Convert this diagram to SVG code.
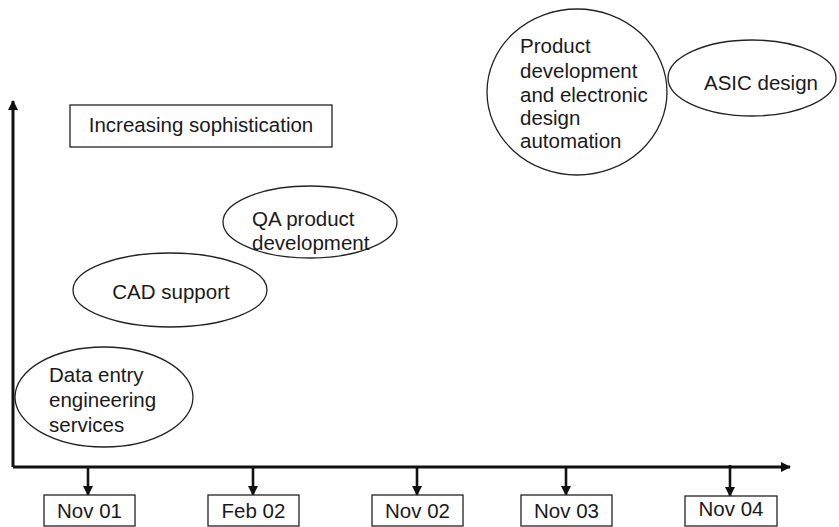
<svg xmlns="http://www.w3.org/2000/svg" width="839" height="527" viewBox="0 0 839 527">
<defs>
<style>
text{font-family:"Liberation Sans",Arial,sans-serif;font-size:20.5px;fill:#1a1a1a}
.node{fill:#fff;stroke:#222;stroke-width:1.3}
.axis{stroke:#111;stroke-width:3;fill:none}
.tick{stroke:#111;stroke-width:2.6;fill:none}
.mid{text-anchor:middle}
</style>
<marker id="ah" viewBox="0 0 10 10" refX="9" refY="5" markerWidth="11" markerHeight="10" markerUnits="userSpaceOnUse" orient="auto">
<path d="M0,0 L10,5 L0,10 z" fill="#111"/>
</marker>
<marker id="ahs" viewBox="0 0 10 10" refX="9" refY="5" markerWidth="11" markerHeight="10" markerUnits="userSpaceOnUse" orient="auto">
<path d="M0,0 L10,5 L0,10 z" fill="#111"/>
</marker>
</defs>
<rect width="839" height="527" fill="#fff"/>
<g id="connectors">
<path class="axis" d="M13,467 L13,101" marker-end="url(#ah)"/>
<path class="axis" d="M13,467 L790,467" marker-end="url(#ah)"/>
<path class="tick" d="M88,467 L88,495" marker-end="url(#ahs)"/>
<path class="tick" d="M253,467 L253,495" marker-end="url(#ahs)"/>
<path class="tick" d="M417,467 L417,495" marker-end="url(#ahs)"/>
<path class="tick" d="M566,467 L566,495" marker-end="url(#ahs)"/>
<path class="tick" d="M730,465 L730,496" marker-end="url(#ahs)"/>
</g>
<g id="label-increasing">
<rect class="node" x="70" y="105" width="262" height="42"/>
<text x="201" y="132" class="mid">Increasing sophistication</text>
</g>
<g id="node-data-entry">
<ellipse class="node" cx="104" cy="397" rx="89" ry="50"/>
<text x="49" y="382">Data entry</text>
<text x="49" y="407">engineering</text>
<text x="49" y="432">services</text>
</g>
<g id="node-cad">
<ellipse class="node" cx="170" cy="290" rx="97" ry="37"/>
<text x="171" y="299" class="mid">CAD support</text>
</g>
<g id="node-qa">
<ellipse class="node" cx="310" cy="222" rx="87" ry="36"/>
<text x="252" y="226">QA product</text>
<text x="252" y="250">development</text>
</g>
<g id="node-product">
<ellipse class="node" cx="577" cy="92" rx="90" ry="83"/>
<text x="520" y="53">Product</text>
<text x="520" y="78">development</text>
<text x="520" y="102">and electronic</text>
<text x="520" y="125">design</text>
<text x="520" y="148">automation</text>
</g>
<g id="node-asic">
<ellipse class="node" cx="752" cy="78" rx="84" ry="38"/>
<text x="761" y="90" class="mid">ASIC design</text>
</g>
<g id="date-nov01">
<rect class="node" x="44" y="495" width="91" height="31"/>
<text x="89.5" y="518" class="mid">Nov 01</text>
</g>
<g id="date-feb02">
<rect class="node" x="208" y="495" width="91" height="31"/>
<text x="253.5" y="518" class="mid">Feb 02</text>
</g>
<g id="date-nov02">
<rect class="node" x="372" y="495" width="91" height="31"/>
<text x="417.5" y="518" class="mid">Nov 02</text>
</g>
<g id="date-nov03">
<rect class="node" x="521" y="495" width="91" height="31"/>
<text x="566.5" y="518" class="mid">Nov 03</text>
</g>
<g id="date-nov04">
<rect class="node" x="685" y="496" width="92" height="30"/>
<text x="731" y="516" class="mid">Nov 04</text>
</g>
</svg>
